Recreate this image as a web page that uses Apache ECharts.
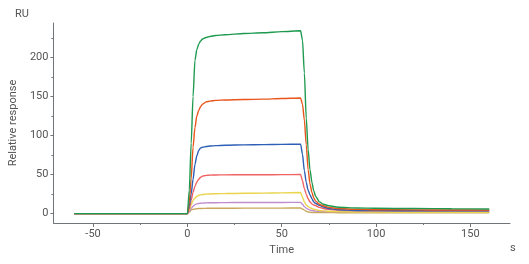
<!DOCTYPE html>
<html lang="en">
	<head>
		<meta charset="UTF-8">
		<title>Sensorgram</title>
		<style type="text/css">
			html,
			body {
				margin: 0;
				padding: 0;
				background: #fff;
			}

			#main {
				width: 529px;
				height: 264px;
			}
		</style>
	</head>
	<body>
		<div id="main"></div>

		<script src="https://cdn.jsdelivr.net/npm/echarts@6/dist/echarts.min.js" type="text/javascript"></script>
		<script type="text/javascript">
			// time points (s)
			let times = [-60, 0, 1, 2, 3, 4, 5, 6, 7, 8, 10, 12, 15, 20, 30, 40, 50, 60,
				61, 62, 63, 64, 65, 66, 67, 68, 70, 72, 75, 80, 90, 100, 120, 140, 160];

			// responses (RU), one array per concentration
			let green = [0, 0, 30, 90, 150, 196, 210, 217, 221, 223.5, 225.5, 226.8, 228, 229, 230.5, 231.5, 233, 234,
				222, 180, 122, 82, 56, 40, 29, 22, 15, 12, 10, 8.2, 7.2, 6.8, 6.5, 6.2, 6];
			let orange = [0, 0, 15, 45, 85, 110, 125, 132, 137, 140, 143, 144, 145, 145.5, 146, 146.5, 147.3, 148,
				140, 120, 88, 56, 38, 27, 20, 16, 12, 10, 8, 6.5, 5.5, 5, 4.8, 4.6, 4.5];
			let blue = [0, 0, 10, 25, 44, 63, 74, 81, 84, 85, 86, 86.5, 87, 87.5, 88, 88.3, 88.7, 89,
				76, 55, 40, 30, 24, 19, 15, 13, 10.5, 8.5, 6.5, 5, 4, 3.8, 3.6, 3.5, 3.5];
			let red = [0, 0, 6, 17, 27, 35, 40.5, 44, 46.5, 48, 49, 49.3, 49.5, 49.6, 49.8, 49.8, 49.9, 50,
				42, 32, 25, 19, 15, 12.5, 11, 10, 8, 6.5, 5.5, 4.5, 4, 4, 4, 4, 4];
			let yellow = [0, 0, 4, 11, 17, 20, 22, 23.5, 24, 24.5, 25, 25.2, 25.5, 25.7, 26, 26.3, 26.6, 27,
				21, 15, 11, 9, 7.5, 6.5, 5.8, 5, 4, 3.5, 3, 2.5, 2, 1.9, 1.8, 1.8, 1.8];
			let purple = [0, 0, 2.5, 6.5, 9.5, 11.5, 12.5, 13, 13.3, 13.5, 13.8, 13.9, 14, 14.1, 14.2, 14.3, 14.3, 14.4,
				12, 9, 7, 5.5, 4.5, 4, 3.6, 3.2, 3, 2.8, 2.6, 2.5, 2.5, 2.5, 2.5, 2.5, 2.5];
			let tan = [0, 0, 2, 4.5, 5.5, 6, 6.3, 6.5, 6.6, 6.7, 6.8, 6.85, 6.9, 6.95, 7, 7, 7.1, 7.2,
				6, 4.5, 3, 2, 1.7, 1.5, 1.4, 1.4, 1.3, 1.3, 1.3, 1.2, 1.2, 1.2, 1.2, 1.2, 1.2];

			// tick labels
			let xTicks = [-50, 0, 50, 100, 150];
			let xMinor = [-25, 25, 75, 125];
			let yTicks = [0, 50, 100, 150, 200];
			let yMinor = [25, 75, 125, 175, 225];

			// drawn bottom to top
			let curves = [
				{ data: tan, color: '#c9a85c' },
				{ data: purple, color: '#c08ccf' },
				{ data: yellow, color: '#e9d44c' },
				{ data: red, color: '#f06262' },
				{ data: blue, color: '#2c5fb5' },
				{ data: orange, color: '#e8561c' },
				{ data: green, color: '#1e9a50' }
			];

			const axisColor = '#70757a';
			const textColor = '#555';
			const font = 'Roboto, "Noto Sans", sans-serif';

			let myChart = echarts.init(document.getElementById('main'), null, { renderer: 'canvas' });

			let option = {
				animation: false,
				grid: {
					left: 50,
					right: 19,
					top: 23,
					bottom: 41
				},
				textStyle: { fontFamily: font },
				graphic: [{
						type: 'text',
						left: 15,
						top: 9,
						style: { text: 'RU', fill: textColor, font: '11px ' + font }
					},
					{
						type: 'text',
						left: 510,
						top: 243,
						style: { text: 's', fill: textColor, font: '11px ' + font }
					}
				],
				xAxis: [{
						type: 'value',
						min: -71,
						max: 171,
						name: 'Time',
						nameLocation: 'middle',
						nameGap: 22,
						nameTextStyle: { color: textColor, fontSize: 11 },
						splitLine: { show: false },
						axisLine: { onZero: false, lineStyle: { color: axisColor, width: 1 } },
						axisTick: { customValues: xTicks, length: 4, lineStyle: { color: axisColor } },
						axisLabel: { customValues: xTicks, color: textColor, fontSize: 11, margin: 6 }
					},
					{
						type: 'value',
						min: -71,
						max: 171,
						position: 'bottom',
						splitLine: { show: false },
						axisLine: { show: false, onZero: false },
						axisTick: { customValues: xMinor, length: 2, lineStyle: { color: axisColor } },
						axisLabel: { show: false }
					}
				],
				yAxis: [{
						type: 'value',
						min: -12,
						max: 244,
						name: 'Relative response',
						nameLocation: 'middle',
						nameRotate: 90,
						nameGap: 28,
						nameTextStyle: { color: textColor, fontSize: 11 },
						splitLine: { show: false },
						axisLine: { show: true, onZero: false, lineStyle: { color: axisColor, width: 1 } },
						axisTick: { show: true, customValues: yTicks, length: 3, lineStyle: { color: axisColor } },
						axisLabel: { customValues: yTicks, color: textColor, fontSize: 11, margin: 5 }
					},
					{
						type: 'value',
						min: -12,
						max: 244,
						position: 'left',
						splitLine: { show: false },
						axisLine: { show: false, onZero: false },
						axisTick: { show: true, customValues: yMinor, length: 2, lineStyle: { color: axisColor } },
						axisLabel: { show: false }
					}
				],
				series: curves.map(c => ({
					type: 'line',
					data: times.map((t, i) => [t, c.data[i]]),
					showSymbol: false,
					smooth: 0.25,
					smoothMonotone: 'x',
					lineStyle: { color: c.color, width: 1.4 },
					itemStyle: { color: c.color }
				}))
			};

			myChart.setOption(option);
		</script>
	</body>
</html>
